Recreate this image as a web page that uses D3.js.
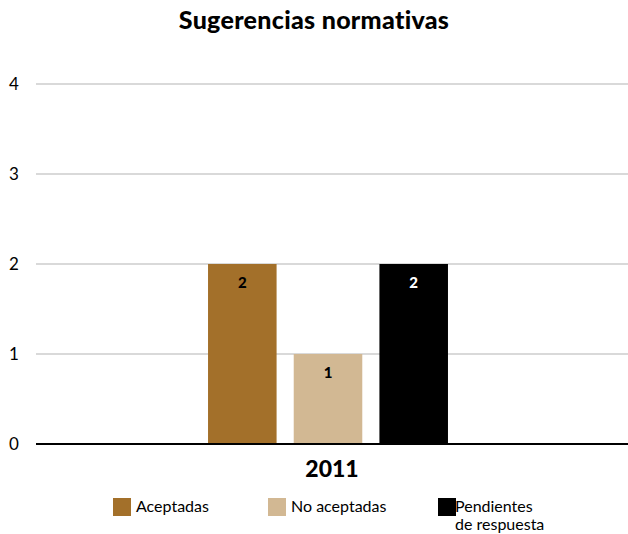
<!DOCTYPE html>
<html>
<head>
<meta charset="utf-8">
<script src="https://cdn.jsdelivr.net/npm/d3@7"></script>
<style>
  body { margin: 0; background: #fff; }
  svg { display: block; font-family: Lato, "Open Sans", sans-serif; }
</style>
</head>
<body>
<svg id="chart" width="628" height="534"></svg>
<script>
const years = ["2011"];
const series = ["Aceptadas", "No aceptadas", "Pendientes de respuesta"];
const values = [2, 1, 2];
const yTicks = [0, 1, 2, 3, 4];
const colors = ["#a3702a", "#d2b893", "#000000"];
const labelColors = ["#000000", "#000000", "#ffffff"];

const svg = d3.select("#chart");
const width = 628;
const margin = { top: 84, right: 0, bottom: 90, left: 36 };
const plotBottom = 444;

const y = d3.scaleLinear()
  .domain([0, 4])
  .range([plotBottom, margin.top]);

const x0 = d3.scaleBand()
  .domain(years)
  .range([margin.left, 620])
  .paddingInner(0)
  .paddingOuter(0.717);

const x1 = d3.scaleBand()
  .domain(series)
  .range([0, x0.bandwidth()])
  .paddingInner(0.2);

// Title
svg.append("text")
  .attr("x", 314)
  .attr("y", 29)
  .attr("text-anchor", "middle")
  .attr("font-size", 25)
  .attr("font-weight", 900)
  .attr("letter-spacing", "0.3px")
  .attr("fill", "#000")
  .text("Sugerencias normativas");

// Grid lines
svg.append("g")
  .selectAll("line")
  .data(yTicks.filter(d => d > 0))
  .join("line")
  .attr("x1", margin.left).attr("x2", width)
  .attr("y1", d => y(d)).attr("y2", d => y(d))
  .attr("stroke", "#b3b3b3")
  .attr("stroke-width", 1);

// Y tick labels
svg.append("g")
  .selectAll("text")
  .data(yTicks)
  .join("text")
  .attr("x", 14)
  .attr("y", d => y(d))
  .attr("dy", "0.36em")
  .attr("text-anchor", "middle")
  .attr("font-size", 17)
  .attr("fill", "#000")
  .text(d => d);

// Bars
const group = svg.append("g")
  .attr("transform", `translate(${x0("2011")},0)`);

group.selectAll("rect")
  .data(series)
  .join("rect")
  .attr("x", d => x1(d))
  .attr("y", (d, i) => y(values[i]))
  .attr("width", x1.bandwidth())
  .attr("height", (d, i) => y(0) - y(values[i]))
  .attr("fill", (d, i) => colors[i]);

group.selectAll("text.val")
  .data(series)
  .join("text")
  .attr("class", "val")
  .attr("x", d => x1(d) + x1.bandwidth() / 2)
  .attr("y", (d, i) => y(values[i]) + 24)
  .attr("text-anchor", "middle")
  .attr("font-size", 15)
  .attr("font-weight", 900)
  .attr("fill", (d, i) => labelColors[i])
  .text((d, i) => values[i]);

// Baseline
svg.append("line")
  .attr("x1", margin.left).attr("x2", width)
  .attr("y1", y(0)).attr("y2", y(0))
  .attr("stroke", "#000")
  .attr("stroke-width", 2);

// Category label
svg.append("text")
  .attr("x", x0("2011") + x0.bandwidth() / 2 + 4)
  .attr("y", 477)
  .attr("text-anchor", "middle")
  .attr("font-size", 23)
  .attr("font-weight", 900)
  .attr("fill", "#000")
  .text("2011");

// Legend
const legendX = [113, 268, 438];
const legend = svg.append("g");
series.forEach((s, i) => {
  const lg = legend.append("g").attr("transform", `translate(${legendX[i]},498)`);
  lg.append("rect")
    .attr("width", 18).attr("height", 18)
    .attr("fill", colors[i]);
  const lines = i === 2 ? ["Pendientes", "de respuesta"] : [s];
  lg.append("text")
    .attr("y", 14)
    .attr("font-size", 16)
    .attr("fill", "#000")
    .selectAll("tspan")
    .data(lines)
    .join("tspan")
    .attr("x", i === 2 ? 17 : 23)
    .attr("dy", (d, j) => j === 0 ? 0 : 18)
    .text(d => d);
});
</script>
</body>
</html>
